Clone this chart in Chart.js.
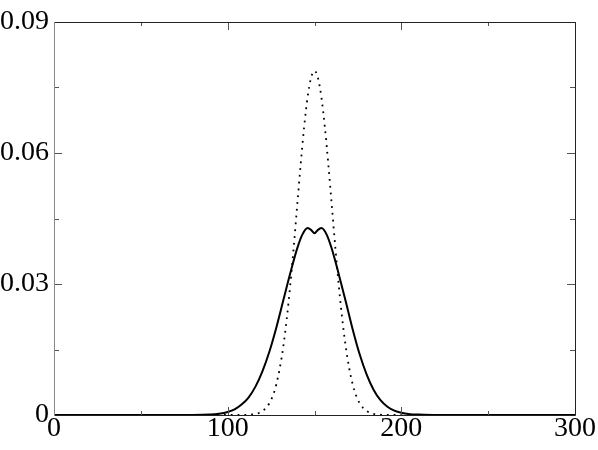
<!DOCTYPE html>
<html>
<head>
<meta charset="utf-8">
<script src="https://cdn.jsdelivr.net/npm/chart.js@4"></script>
<style>
  html, body { margin: 0; padding: 0; background: #fff; }
  #wrap { width: 598px; height: 450px; position: relative; }
</style>
</head>
<body>
<div id="wrap"><canvas id="c" width="598" height="450"></canvas></div>
<script>
// Solid curve (x, y)
const solidX = [0, 80, 90, 95, 100, 104, 108, 112, 116, 120, 124, 128, 132, 136, 140, 143, 146, 148, 150,
                152, 154, 157, 160, 164, 168, 172, 176, 180, 184, 188, 192, 196, 200, 205, 210, 220, 300];
const solidY = [0, 0, 0.0001, 0.0003, 0.0007, 0.0013, 0.0024, 0.0040, 0.0065, 0.0100, 0.0145, 0.0200, 0.0262, 0.0324, 0.0381, 0.0413, 0.0428, 0.0424, 0.0416,
                0.0424, 0.0428, 0.0413, 0.0380, 0.0322, 0.0260, 0.0196, 0.0139, 0.0093, 0.0058, 0.0034, 0.0019, 0.0010, 0.0005, 0.0002, 0.0001, 0, 0];

// Dotted curve (x, y)
const dotX = [0, 100, 110, 114, 118, 122, 124, 126, 128, 130, 132, 134, 136, 138, 140, 142, 144, 146, 148, 150,
              152, 154, 156, 158, 160, 162, 164, 166, 168, 170, 172, 174, 176, 178, 182, 186, 190, 200, 300];
const dotY = [0, 0, 0.00003, 0.00012, 0.00047, 0.0016, 0.0027, 0.0044, 0.0070, 0.0107, 0.0156, 0.0219, 0.0296, 0.0383, 0.0478, 0.0572, 0.0658, 0.0727, 0.0772, 0.0788,
              0.0772, 0.0727, 0.0658, 0.0572, 0.0478, 0.0383, 0.0296, 0.0219, 0.0156, 0.0107, 0.0070, 0.0044, 0.0027, 0.0016, 0.00047, 0.00012, 0.00003, 0, 0];

// Ticks
const xMajor = [0, 100, 200, 300];
const xMinor = [50, 150, 250];
const yMajor = [0, 0.03, 0.06, 0.09];
const yMinor = [0.015, 0.045, 0.075];
const yLabels = {0: '0', 0.03: '0.03', 0.06: '0.06', 0.09: '0.09'};

const FONT = { family: "'Liberation Serif', 'DejaVu Serif', serif", size: 28, lineHeight: 1 };

const framePlugin = {
  id: 'frame',
  afterDatasetsDraw(chart) {
    const { ctx, chartArea: a, scales } = chart;
    const xs = scales.x, ys = scales.y;
    ctx.save();
    ctx.lineWidth = 1;
    // ticks
    ctx.strokeStyle = '#555';
    ctx.beginPath();
    const tickX = (v, len) => {
      const p = Math.round(xs.getPixelForValue(v)) + 0.5;
      ctx.moveTo(p, a.bottom); ctx.lineTo(p, a.bottom - len);
      ctx.moveTo(p, a.top); ctx.lineTo(p, a.top + len);
    };
    const tickY = (v, len) => {
      const p = Math.round(ys.getPixelForValue(v)) + 0.5;
      ctx.moveTo(a.left, p); ctx.lineTo(a.left + len, p);
      ctx.moveTo(a.right, p); ctx.lineTo(a.right - len, p);
    };
    xMajor.forEach(v => tickX(v, 8));
    xMinor.forEach(v => tickX(v, 4));
    yMajor.forEach(v => tickY(v, 8));
    yMinor.forEach(v => tickY(v, 5));
    ctx.stroke();
    // frame
    ctx.strokeStyle = '#222';
    ctx.beginPath();
    ctx.moveTo(a.left, a.top + 0.5); ctx.lineTo(a.right + 0.5, a.top + 0.5);
    ctx.lineTo(a.right + 0.5, a.bottom + 0.5); ctx.lineTo(a.left, a.bottom + 0.5);
    ctx.stroke();
    ctx.strokeStyle = '#888';
    ctx.beginPath();
    ctx.moveTo(a.left + 0.5, a.top); ctx.lineTo(a.left + 0.5, a.bottom + 1);
    ctx.stroke();
    ctx.restore();
  }
};

new Chart(document.getElementById('c'), {
  type: 'line',
  data: {
    datasets: [
      {
        data: dotX.map((x, i) => ({ x, y: dotY[i] })),
        borderColor: '#000',
        borderWidth: 1.8,
        borderDash: [1.8, 5],
        pointRadius: 0,
        cubicInterpolationMode: 'monotone',
        fill: false
      },
      {
        data: solidX.map((x, i) => ({ x, y: solidY[i] })),
        borderColor: '#000',
        borderWidth: 2,
        pointRadius: 0,
        cubicInterpolationMode: 'monotone',
        fill: false
      }
    ]
  },
  options: {
    responsive: false,
    animation: false,
    events: [],
    layout: { padding: { top: 22, right: 23, left: 0, bottom: 0 } },
    plugins: { legend: { display: false }, tooltip: { enabled: false } },
    scales: {
      x: {
        type: 'linear', min: 0, max: 300,
        afterBuildTicks(s) { s.ticks = xMajor.map(v => ({ value: v })); },
        afterFit(s) { s.height = 35; },
        grid: { display: false, drawTicks: false },
        border: { display: false },
        ticks: { color: '#000', font: FONT, padding: 0, maxRotation: 0, autoSkip: false,
                 callback: v => String(v) }
      },
      y: {
        type: 'linear', min: 0, max: 0.09,
        afterBuildTicks(s) { s.ticks = yMajor.map(v => ({ value: v })); },
        afterFit(s) { s.width = 54; },
        grid: { display: false, drawTicks: false },
        border: { display: false },
        ticks: { color: '#000', font: FONT, padding: 5, autoSkip: false,
                 callback: v => yLabels[Math.round(v * 1000) / 1000] ?? '' }
      }
    }
  },
  plugins: [framePlugin]
});
</script>
</body>
</html>
